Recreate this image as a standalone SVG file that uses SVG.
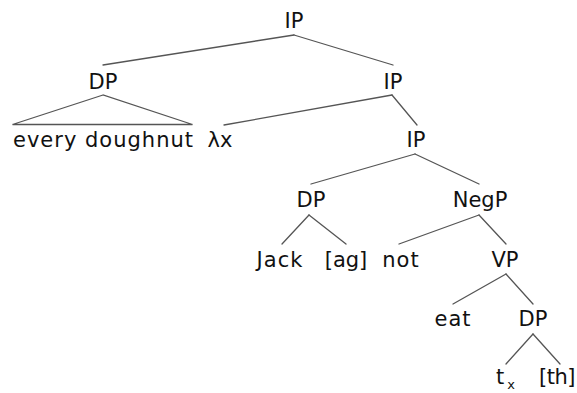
<svg xmlns="http://www.w3.org/2000/svg" width="577" height="393" viewBox="0 0 577 393">
  <style>
    .lbl { font-family: "DejaVu Sans", "Liberation Sans", sans-serif; font-size: 21px; fill: #111; text-anchor: middle; }
    .wide { letter-spacing: 1px; }
    .tight { letter-spacing: -0.5px; }
    .sub { font-family: "DejaVu Sans", "Liberation Sans", sans-serif; font-size: 13px; fill: #111; text-anchor: middle; }
    .edge { stroke: #555; stroke-width: 1.3; fill: none; stroke-linecap: round; }
  </style>
  <rect width="577" height="393" fill="#fff"/>

  <!-- tree branches -->
  <g id="connectors">
    <line class="edge" x1="294" y1="35" x2="103" y2="65"/>
    <line class="edge" x1="294" y1="35" x2="393" y2="65"/>
    <polygon class="edge" points="103,95 12.5,124.5 192.5,124.5"/>
    <line class="edge" x1="392" y1="95" x2="224" y2="125"/>
    <line class="edge" x1="392" y1="95" x2="417" y2="125"/>
    <line class="edge" x1="415" y1="154" x2="311" y2="184"/>
    <line class="edge" x1="415" y1="154" x2="479" y2="184"/>
    <line class="edge" x1="309" y1="215" x2="282" y2="244"/>
    <line class="edge" x1="309" y1="215" x2="346" y2="244"/>
    <line class="edge" x1="479" y1="215" x2="399" y2="244"/>
    <line class="edge" x1="479" y1="215" x2="506" y2="244"/>
    <line class="edge" x1="506" y1="274" x2="453" y2="304"/>
    <line class="edge" x1="506" y1="274" x2="533" y2="304"/>
    <line class="edge" x1="533" y1="334" x2="506" y2="364"/>
    <line class="edge" x1="533" y1="334" x2="560" y2="364"/>
  </g>

  <g id="ip-root"><text class="lbl" x="294" y="28">IP</text></g>
  <g id="dp-subject"><text class="lbl" x="103" y="89">DP</text></g>
  <g id="ip-lambda"><text class="lbl" x="393" y="89">IP</text></g>
  <g id="every-doughnut"><text class="lbl wide" x="103.5" y="147">every doughnut</text></g>
  <g id="lambda-x"><text class="lbl" x="220" y="147">λx</text></g>
  <g id="ip-inner"><text class="lbl" x="416" y="147">IP</text></g>
  <g id="dp-jack"><text class="lbl" x="311" y="207">DP</text></g>
  <g id="negp"><text class="lbl" x="480" y="207">NegP</text></g>
  <g id="jack"><text class="lbl wide" x="280" y="267">Jack</text></g>
  <g id="ag"><text class="lbl" x="346" y="267">[ag]</text></g>
  <g id="not"><text class="lbl wide" x="401" y="267">not</text></g>
  <g id="vp"><text class="lbl" x="505" y="267">VP</text></g>
  <g id="eat"><text class="lbl wide" x="453" y="326">eat</text></g>
  <g id="dp-object"><text class="lbl" x="533" y="326">DP</text></g>
  <g id="trace">
    <text class="lbl" x="500" y="384">t</text>
    <text class="sub" x="511" y="389">x</text>
  </g>
  <g id="th"><text class="lbl tight" x="557" y="384">[th]</text></g>
</svg>
